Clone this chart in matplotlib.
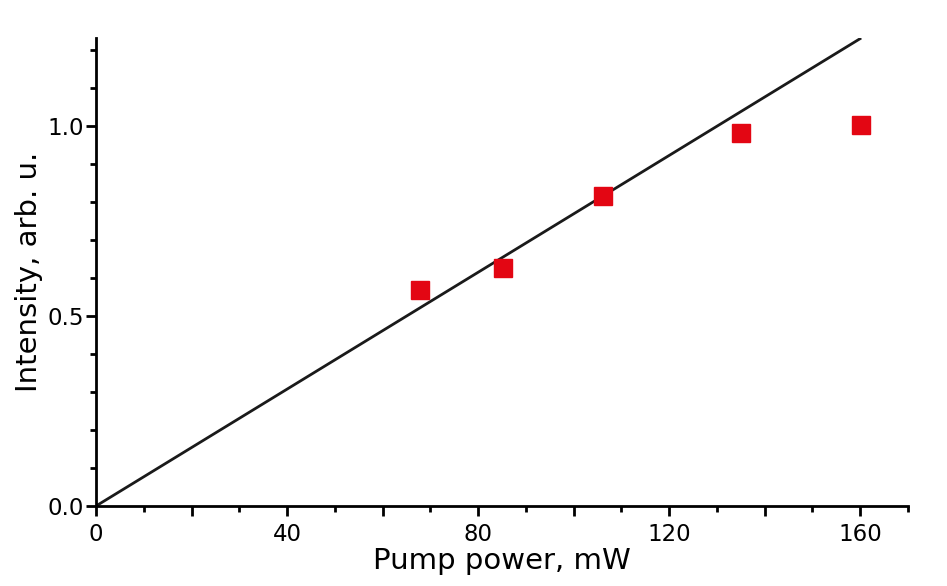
import numpy as np
import matplotlib.pyplot as plt
from matplotlib.ticker import MultipleLocator

# measured points
pump_mw = [67.9, 85.2, 106.2, 135.1, 160.2]
intensity = [0.568, 0.626, 0.816, 0.982, 1.003]

# linear fit through origin
fit_x = [0.0, 160.2]
fit_y = [0.0, 1.232]

plt.rcParams['font.family'] = ['DejaVu Sans']

fig = plt.figure(figsize=(9.47, 5.86), dpi=100)
ax = fig.add_axes([96/947, 80/586, 812/947, 468/586])

ax.plot(fit_x, fit_y, color='#1a1a1a', lw=2.0, solid_capstyle='butt', zorder=2)
ax.plot(pump_mw, intensity, 's', color='#e30613', ms=12.5, mec='#e30613', zorder=3)

ax.set_xlim(0, 170)
ax.set_ylim(0, 1.232)

ax.xaxis.set_major_locator(MultipleLocator(20))
ax.xaxis.set_minor_locator(MultipleLocator(10))
ax.yaxis.set_major_locator(MultipleLocator(0.5))
ax.yaxis.set_minor_locator(MultipleLocator(0.1))
ax.set_xticklabels(['' if int(round(v)) % 40 else str(int(round(v)))
                    for v in ax.get_xticks()])
ax.yaxis.set_major_formatter(plt.FormatStrFormatter('%.1f'))

for s in ['top', 'right']:
    ax.spines[s].set_visible(False)
for s in ['left', 'bottom']:
    ax.spines[s].set_linewidth(2.0)

ax.tick_params(which='major', direction='out', length=7, width=2, labelsize=16.5, pad=2)
ax.tick_params(which='minor', direction='out', length=4, width=2)
ax.tick_params(axis='x', which='major', pad=5)

ax.set_xlabel('Pump power, mW', fontsize=21, labelpad=1)
ax.set_ylabel('Intensity, arb. u.', fontsize=21, labelpad=3)

fig.savefig('out.png', dpi=100)
